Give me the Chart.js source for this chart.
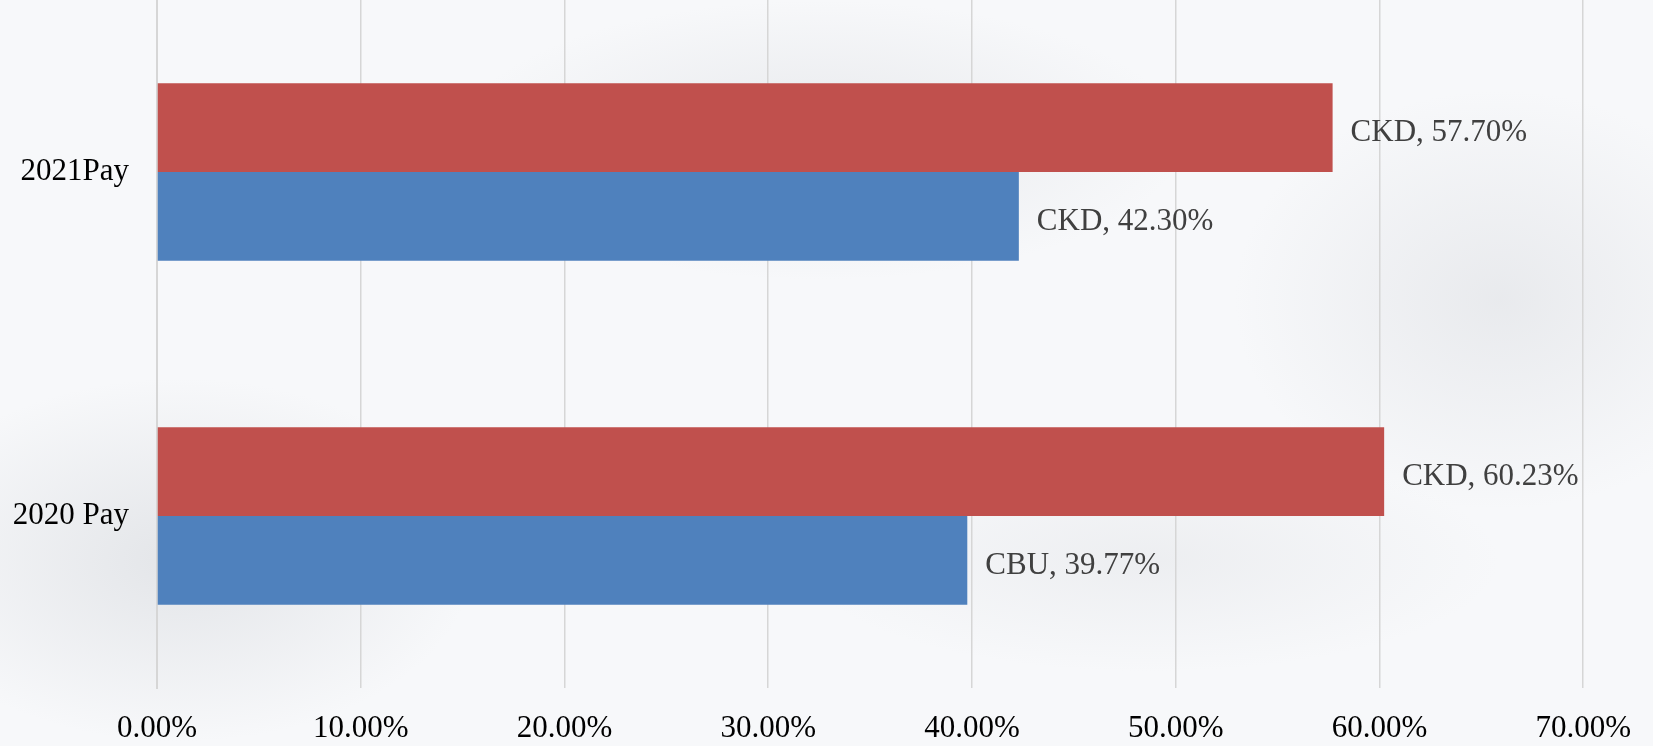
<!DOCTYPE html>
<html>
<head>
<meta charset="utf-8">
<script src="https://cdn.jsdelivr.net/npm/chart.js@4.4.0/dist/chart.umd.min.js"></script>
<style>
  html, body { margin: 0; padding: 0; }
  body {
    width: 1653px; height: 746px; overflow: hidden;
    background:
      radial-gradient(ellipse 420px 260px at 180px 560px, rgba(190,194,200,0.35), rgba(190,194,200,0) 70%),
      radial-gradient(ellipse 520px 200px at 820px 140px, rgba(195,198,204,0.30), rgba(195,198,204,0) 70%),
      radial-gradient(ellipse 380px 300px at 1500px 300px, rgba(195,198,204,0.28), rgba(195,198,204,0) 70%),
      radial-gradient(ellipse 500px 160px at 1150px 560px, rgba(200,203,208,0.22), rgba(200,203,208,0) 70%),
      #f7f8fa;
  }
  #wrap { position: relative; width: 1653px; height: 746px; }
</style>
</head>
<body>
<div id="wrap"><canvas id="c" width="1653" height="746"></canvas></div>
<script>
const categories = ['2021Pay', '2020 Pay'];
const redValues = [57.70, 60.23];
const blueValues = [42.30, 39.77];
const redLabels = ['CKD, 57.70%', 'CKD, 60.23%'];
const blueLabels = ['CKD, 42.30%', 'CBU, 39.77%'];
const xTicks = [0, 10, 20, 30, 40, 50, 60, 70];

const FONT = "'Liberation Serif', 'Times New Roman', serif";

const dataLabelPlugin = {
  id: 'dataLabels',
  afterDatasetsDraw(chart) {
    const ctx = chart.ctx;
    ctx.save();
    ctx.font = '31px ' + FONT;
    ctx.fillStyle = '#404040';
    ctx.textBaseline = 'middle';
    ctx.textAlign = 'left';
    chart.data.datasets.forEach((ds, di) => {
      const meta = chart.getDatasetMeta(di);
      meta.data.forEach((bar, i) => {
        ctx.fillText(ds.pointLabels[i], bar.x + 18, bar.y + 5);
      });
    });
    ctx.restore();
  }
};

new Chart(document.getElementById('c'), {
  type: 'bar',
  data: {
    labels: categories,
    datasets: [
      { label: 'red', data: redValues, pointLabels: redLabels, backgroundColor: '#C0504D',
        categoryPercentage: 0.516, barPercentage: 1.0, borderWidth: 0 },
      { label: 'blue', data: blueValues, pointLabels: blueLabels, backgroundColor: '#4F81BD',
        categoryPercentage: 0.516, barPercentage: 1.0, borderWidth: 0 }
    ]
  },
  options: {
    indexAxis: 'y',
    responsive: false,
    animation: false,
    layout: { padding: { left: 0, right: 68, top: 0, bottom: 0 } },
    plugins: { legend: { display: false }, tooltip: { enabled: false } },
    scales: {
      x: {
        min: xTicks[0],
        max: xTicks[xTicks.length - 1],
        afterBuildTicks(scale) { scale.ticks = xTicks.map(v => ({ value: v })); },
        afterFit(scale) { scale.height = 58; },
        grid: { color: '#d6d6d6', lineWidth: 1.5, drawTicks: false },
        border: { display: false },
        ticks: {
          padding: 22,
          color: '#000000',
          font: { family: FONT, size: 31 },
          callback: v => Number(v).toFixed(2) + '%'
        }
      },
      y: {
        afterFit(scale) { scale.width = 157; scale.paddingTop = 0; scale.paddingBottom = 0; },
        grid: { display: false, drawTicks: false },
        border: { display: true, color: '#d6d6d6', width: 2 },
        ticks: {
          padding: 28,
          color: '#000000',
          font: { family: FONT, size: 31 }
        }
      }
    }
  },
  plugins: [dataLabelPlugin]
});
</script>
</body>
</html>
